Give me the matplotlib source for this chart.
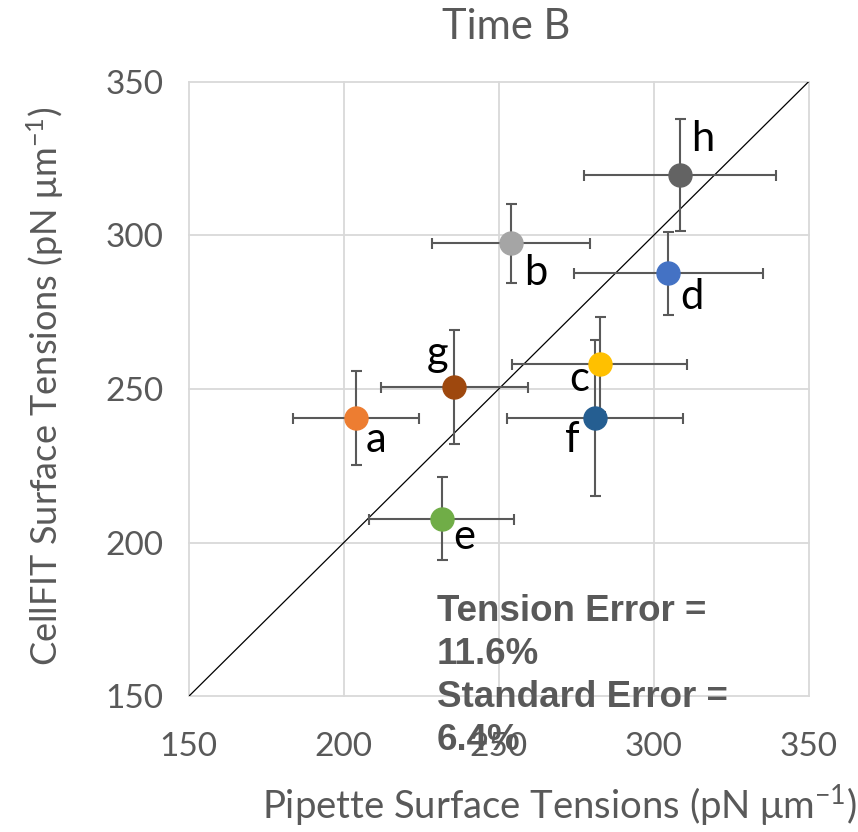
import matplotlib
matplotlib.use("Agg")
import matplotlib.pyplot as plt

plt.rcParams['mathtext.fontset'] = 'custom'
plt.rcParams['mathtext.rm'] = 'Lato'
plt.rcParams['mathtext.it'] = 'Lato'
plt.rcParams['mathtext.default'] = 'regular'

labels = ["a", "b", "c", "d", "e", "f", "g", "h"]
pipette = [204.0, 253.9, 282.6, 304.7, 231.6, 281.1, 235.6, 308.5]
cellfit = [240.5, 297.4, 258.0, 287.6, 207.8, 240.6, 250.7, 319.6]
pipette_err = [20.4, 25.5, 28.3, 30.5, 23.3, 28.3, 23.7, 31.1]
cellfit_err = [15.2, 12.8, 15.4, 13.4, 13.5, 25.3, 18.5, 18.1]
colors = ["#ED7D31", "#A5A5A5", "#FFC000", "#4472C4", "#70AD47", "#255E91", "#9E480E", "#636363"]
# label offsets in pixels (dx, dy) relative to point
offsets = [(20, -22), (25, -30), (-21, -15), (24, -24), (23, -18), (-23, -22), (-16, 33), (23, 36)]
ticks = [150, 200, 250, 300, 350]

DPI = 100
PT = 72 / DPI
fig = plt.figure(figsize=(8.58, 8.32), dpi=DPI)
ax = fig.add_axes([188.7/858, 1 - 696.4/832, 620/858, (696.4-81.6)/832])
ax.set_xlim(150, 350)
ax.set_ylim(150, 350)
for s in ax.spines.values():
    s.set_visible(False)
for t in ticks:
    ax.axvline(t, color="#D9D9D9", lw=1.3, zorder=0, clip_on=False)
    ax.axhline(t, color="#D9D9D9", lw=1.3, zorder=0, clip_on=False)
ax.set_xticks(ticks)
ax.set_yticks(ticks)
ax.tick_params(length=0, labelsize=24, labelcolor="#595959")
ax.tick_params(axis="x", pad=36 * PT)
ax.tick_params(axis="y", pad=25 * PT)
for lab in ax.get_xticklabels() + ax.get_yticklabels():
    lab.set_fontfamily("Lato")

ax.plot([150, 350], [150, 350], color="black", lw=0.9, zorder=1)

for i in range(len(labels)):
    ax.errorbar(pipette[i], cellfit[i], xerr=pipette_err[i], yerr=cellfit_err[i],
                fmt="none", ecolor="#595959", elinewidth=1.5, capsize=5.5 * PT,
                capthick=1.5, zorder=2)
for i in range(len(labels)):
    ax.plot(pipette[i], cellfit[i], "o", color=colors[i], markersize=23 * PT, zorder=3)
    ax.annotate(labels[i], (pipette[i], cellfit[i]),
                xytext=(offsets[i][0] * PT, offsets[i][1] * PT),
                textcoords="offset points", ha="center", va="center", fontsize=30,
                fontfamily="Lato", color="black", zorder=4)

ax.set_xlabel("Pipette Surface Tensions (pN \u03bcm$^{-1}$)", fontsize=27.5, color="#595959",
              fontfamily="Lato", va="center")
ax.xaxis.set_label_coords((559 - 188.7) / 620, (696.4 - 805) / 614.8)
ax.set_ylabel("CellFIT Surface Tensions (pN \u03bcm$^{-1}$)", fontsize=26, color="#595959",
              fontfamily="Lato", va="center")
ax.yaxis.set_label_coords((45 - 188.7) / 620, (696.4 - 386) / 614.8)

fig.text(506/858, 1 - 27/832, "Time B", ha="center", va="center", fontsize=30,
         color="#595959", fontfamily="Lato")

fig.text(437/858, 1 - 676/832, "Tension Error =\n11.6%\nStandard Error =\n6.4%",
         ha="left", va="center", fontsize=26.5, fontweight="bold", color="#595959",
         fontfamily="Liberation Sans", linespacing=1.3, zorder=5)

fig.savefig("out.png", dpi=DPI)
